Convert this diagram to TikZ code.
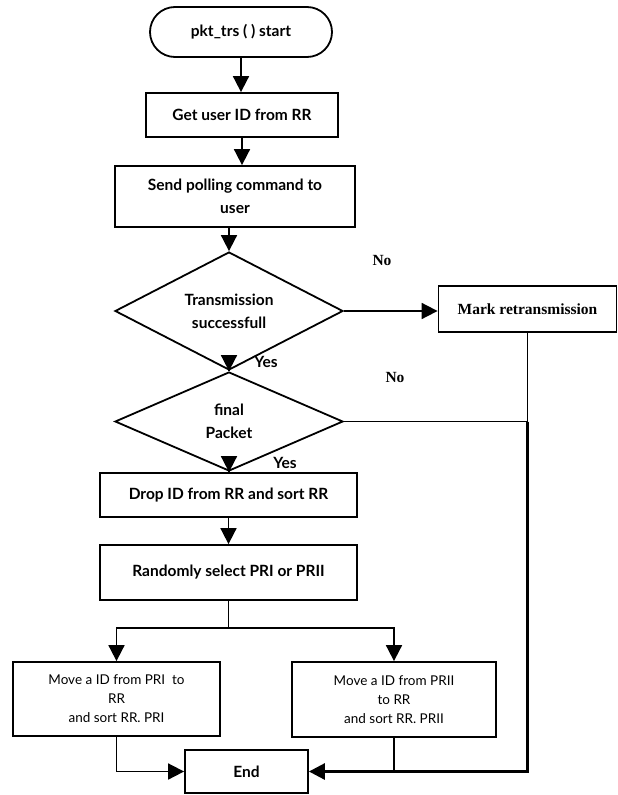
\documentclass[tikz,border=0pt]{standalone}
\usepackage{fontspec}
\setmainfont{Lato}
\newfontfamily\serifface{Liberation Serif}
\usetikzlibrary{shapes.geometric,shapes.misc,arrows.meta,calc}

\begin{document}
\begin{tikzpicture}[x=1bp,y=-1bp,
  every node/.style={font=\fontsize{15.5bp}{23bp}\selectfont\bfseries, align=center, inner sep=0pt},
  line/.style={line width=1.8bp},
  heavy/.style={line width=2.8bp},
  tip/.style={-{Triangle[length=16bp,width=16bp]}},
  flow/.style={line, tip},
  proc/.style={draw, rectangle, line width=1.8bp},
  term/.style={draw, rounded rectangle, line width=1.8bp},
  dec/.style={draw, diamond, line width=1.8bp, aspect=2},
  small/.style={font=\fontsize{13.5bp}{19bp}\selectfont},
  seriftext/.style={font=\fontsize{15.5bp}{18bp}\selectfont\serifface\bfseries},
]
\useasboundingbox (0,0) rectangle (618,795);

% process nodes
\node[term, minimum width=182bp, minimum height=50bp] (start) at (241,32) {pkt\_trs ( ) start};
\node[proc, minimum width=192bp, minimum height=44bp] (getid) at (242,115) {Get user ID from RR};
\node[proc, minimum width=240bp, minimum height=61bp] (poll) at (235,196.5) {Send polling command to\\user};
\node[dec, minimum width=228bp, minimum height=118bp] (ok) at (229,311) {Transmission\\successfull};
\node[dec, minimum width=228bp, minimum height=99bp] (final) at (229,421.5) {final\\Packet};
\node[proc, seriftext, minimum width=178bp, minimum height=46bp] (mark) at (527.5,309) {Mark retransmission};
\node[proc, minimum width=257bp, minimum height=44bp] (drop) at (228.5,495) {Drop ID from RR and sort RR};
\node[proc, minimum width=257bp, minimum height=55bp] (rand) at (228.5,572.5) {Randomly select PRI or PRII};
\node[proc, small, minimum width=207bp, minimum height=74bp] (mv1) at (116.5,699) {Move a ID from PRI\ \ to\\RR\\and sort RR. PRI};
\node[proc, small, minimum width=204bp, minimum height=75bp] (mv2) at (394,699.5) {Move a ID from PRII\\to RR\\and sort RR. PRII};
\node[proc, minimum width=123bp, minimum height=43bp] (end) at (246.5,771.5) {End};

% branch labels
\node[seriftext] (no1) at (382,260) {No};
\node[seriftext] (no2) at (395,377) {No};
\node (yes1) at (266,362) {Yes};
\node (yes2) at (285,463) {Yes};

% main flow
\draw[flow] (start.south) -- (start.south |- getid.north);
\draw[flow] (getid.south) -- (getid.south |- poll.north);
\draw[flow] (ok.north |- poll.south) -- (ok.north);
\draw[flow] (ok.south) -- (final.north);
\draw[flow] (final.south) -- (final.south |- drop.north);
\draw[flow] (drop.south) -- (drop.south |- rand.north);

% split to the two priority lists
\coordinate (split) at ($(rand.south)+(0,27)$);
\draw[line] (rand.south) -- (split);
\draw[flow] (split) -| (mv1.north);
\draw[flow] (split) -| (mv2.north);

% failure and non-final paths
\draw[flow] (ok.east) -- (ok.east -| mark.west);
\coordinate (join) at (final.east -| mark.south);
\draw[line] (final.east) -- (join);
\draw[line] (mark.south) -- (join);
\draw[heavy, tip] (join) |- (end.east);

% to the end
\draw[line] (mv2.south) -- (mv2.south |- end.east);
\draw[flow] (mv1.south) |- (end.west);
\end{tikzpicture}
\end{document}
